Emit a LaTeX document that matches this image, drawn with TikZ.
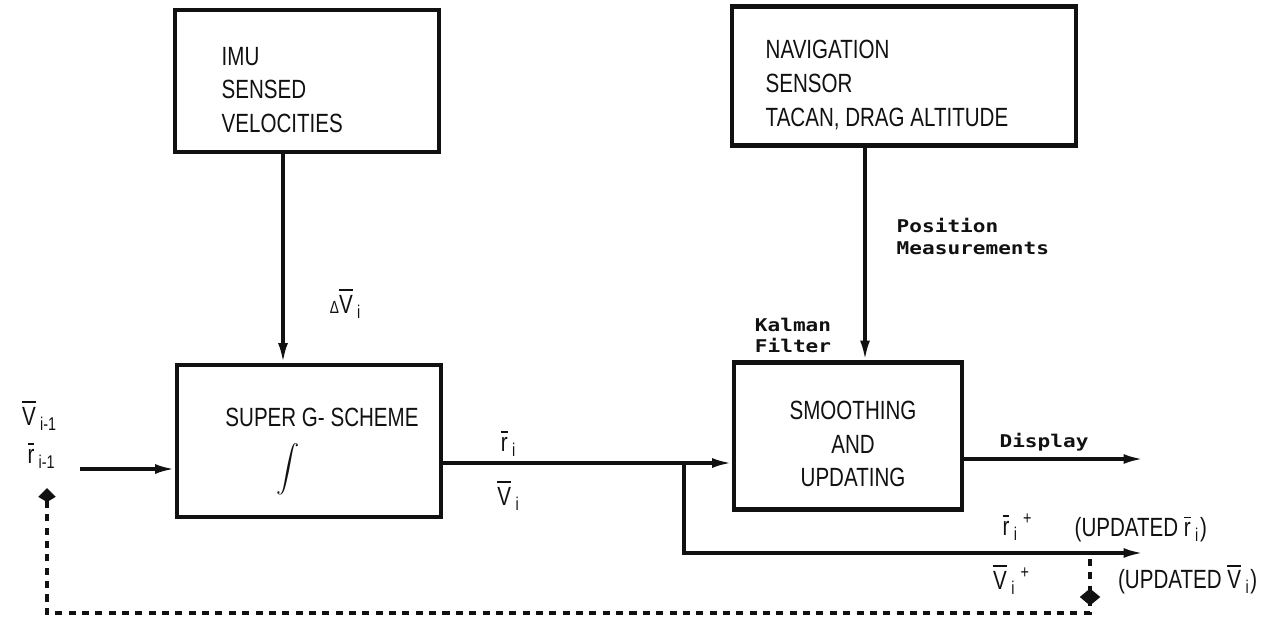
\documentclass[tikz,border=0pt]{standalone}
\usepackage{graphicx}
\usepackage{fontspec}
\usepackage{xcolor}
\usepackage{tikz}
\usetikzlibrary{arrows.meta,shapes.geometric}
\setmainfont{Liberation Sans}
\newfontfamily\boxfont{Liberation Sans}[FakeStretch=0.78]
\newfontfamily\tagfont{DejaVu Sans Mono}[FakeStretch=1.2]
\definecolor{GInk}{HTML}{111111}
\newcommand{\ovl}[1]{\ensuremath{\overline{\hbox{#1}}}}
\tikzset{
  block/.style={draw=GInk,line width=1.4pt,inner sep=0pt},
  conn/.style={GInk,line width=0.9pt,-{Latex[length=5.5pt,width=2.8pt]}},
  fback/.style={GInk,line width=1.3pt,dash pattern=on 2pt off 1.8pt,-{Kite[length=4pt,width=5pt,inset=1.5pt]}},
  boxtxt/.style={font=\boxfont\fontsize{7.5}{9.6}\selectfont,text=GInk,align=left,inner sep=0pt},
  tagtxt/.style={font=\tagfont\bfseries\fontsize{5}{6}\selectfont,text=GInk,inner sep=0pt},
  symtxt/.style={font=\boxfont\fontsize{7.5}{9}\selectfont,text=GInk,inner sep=0pt}
}

\begin{document}
\begin{tikzpicture}[x=1cm,y=1cm]
\path[use as bounding box] (0,0) rectangle (12.62,6.26);
\node[block,minimum width=2.64cm,minimum height=1.42cm] (imu) at (3.07,5.45) {};
\node[block,minimum width=3.44cm,minimum height=1.39cm] (nav) at (9.04,5.50) {};
\node[block,minimum width=2.64cm,minimum height=1.52cm] (superg) at (3.09,1.85) {};
\node[block,minimum width=2.28cm,minimum height=1.47cm] (smooth) at (8.48,1.90) {};
\node[boxtxt,anchor=west] (imutxt) at (2.21,5.36) {IMU\\SENSED\\VELOCITIES};
\node[boxtxt,anchor=west] (navtxt) at (7.65,5.41) {NAVIGATION\\SENSOR\\TACAN, DRAG ALTITUDE};
\node[boxtxt] (supergtxt) at (3.22,2.09) {SUPER G- SCHEME};
\node[symtxt] (integ) at (2.88,1.57) {\scalebox{0.66}{$\displaystyle\int$}};
\node[boxtxt,align=center] (smoothtxt) at (8.53,1.82) {SMOOTHING\\AND\\UPDATING};
\coordinate (imuarr) at (2.83,0);
\coordinate (navarr) at (8.65,0);
\draw[conn] (imu.south -| imuarr) -- (superg.north -| imuarr);
\draw[conn] (nav.south -| navarr) -- (smooth.north -| navarr);
\coordinate (inp) at (0.80,1.57);
\draw[conn] (inp) -- (superg.west |- inp);
\coordinate (split) at (6.84,1.63);
\draw[conn] (superg.east |- split) -- (smooth.west |- split);
\coordinate (updend) at (11.43,0.73);
\draw[conn] (split) |- (updend);
\coordinate (dispend) at (11.43,1.67);
\draw[conn] (smooth.east |- dispend) -- (dispend);
\coordinate (fbtop) at (10.90,0.67);
\coordinate (fbin) at (0.47,1.38);
\coordinate (fbbot) at (0,0.13);
\draw[fback] (fbtop) |- (fbin |- fbbot) -- (fbin);
\node[fill=GInk,diamond,inner sep=0pt,minimum width=6pt,minimum height=5pt] (fbmark) at (10.90,0.29) {};
\node[symtxt] (dvlab) at (3.46,3.23) {{\fontsize{5}{5}\selectfont Δ}\ovl{V}\,\textsubscript{i}};
\node[symtxt] (vprev) at (0.40,2.11) {\ovl{V}\,\textsubscript{i-1}};
\node[symtxt] (rprev) at (0.42,1.71) {\ovl{r}\,\textsubscript{i-1}};
\node[symtxt] (rcur) at (5.09,1.83) {\ovl{r}\,\textsubscript{i}};
\node[symtxt] (vcur) at (5.09,1.31) {\ovl{V}\,\textsubscript{i}};
\node[tagtxt,align=center] (kalman) at (7.93,2.91) {Kalman\\Filter};
\node[tagtxt,align=left,anchor=west] (posmeas) at (8.96,3.895) {Position\\Measurements};
\node[tagtxt] (disptxt) at (10.44,1.84) {Display};
\node[symtxt] (rplus) at (10.18,0.99) {\ovl{r}\,\textsubscript{i}\,\textsuperscript{+}};
\node[symtxt,anchor=west] (updr) at (10.74,0.97) {(UPDATED \ovl{r}\,\textsubscript{i})};
\node[symtxt] (vplus) at (10.12,0.47) {\ovl{V}\,\textsubscript{i}\,\textsuperscript{+}};
\node[symtxt,anchor=east] (updv) at (12.58,0.47) {(UPDATED \ovl{V}\,\textsubscript{i})};
\end{tikzpicture}
\end{document}
